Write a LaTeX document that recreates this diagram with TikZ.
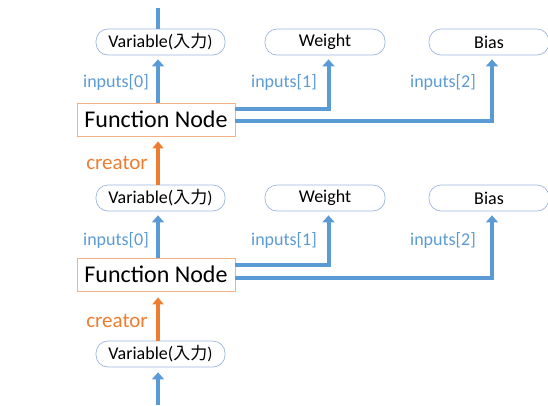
\documentclass[tikz,border=0pt]{standalone}
\usepackage{fontspec}
\setmainfont{Carlito}
\newfontfamily\jpfont{Noto Sans CJK JP}
\usetikzlibrary{arrows.meta}
\definecolor{lblue}{HTML}{5B9BD5}
\definecolor{bord}{HTML}{9DB5DF}
\definecolor{orng}{HTML}{ED7D31}
\definecolor{fnbord}{HTML}{F4B183}
\tikzset{
  varbox/.style={draw=bord, line width=0.7pt, rounded corners=12pt, minimum height=26pt, inner sep=0pt, font=\fontsize{18}{20}\selectfont},
  fnbox/.style={draw=fnbord, line width=0.8pt, minimum width=158pt, minimum height=33pt, inner sep=0pt, font=\fontsize{24}{26}\selectfont},
  bluearrow/.style={draw=lblue, line width=4pt, -{Triangle[width=12pt,length=7pt]}},
  bluebar/.style={draw=lblue, line width=4pt},
  orangearrow/.style={draw=orng, line width=4pt, -{Triangle[width=11pt,length=7pt]}},
  inlabel/.style={text=lblue, font=\fontsize{18}{20}\selectfont},
  crlabel/.style={text=orng, font=\fontsize{21}{23}\selectfont}
}
\begin{document}
\begin{tikzpicture}[x=1pt,y=-1pt]
\useasboundingbox (0,0) rectangle (548,405);
\coordinate (ax) at (158,0);
\coordinate (wx) at (328.5,0);
\coordinate (bx) at (492,0);
% row 1
\node[varbox, minimum width=129pt] (v1) at (160.5,42) {Variable(\jpfont\fontsize{17}{20}\selectfont 入力\rmfamily)};
\node[varbox, minimum width=120pt] (w1) at (325,42) {Weight};
\node[varbox, minimum width=120pt] (b1) at (489,42) {Bias};
\node[fnbox] (f1) at (156,119.5) {Function Node};
\coordinate (t0) at (158,8);
\draw[bluebar] (t0) -- (ax |- v1.north);
\draw[bluearrow] (ax |- f1.north) -- ([yshift=-4pt]ax |- v1.south);
\draw[bluearrow] (f1.east |- 0,109) -| ([yshift=-4pt]wx |- w1.south);
\draw[bluearrow] (f1.east |- 0,121) -| ([yshift=-4pt]bx |- b1.south);
\node[inlabel] (i10) at (116,82) {inputs[0]};
\node[inlabel] (i11) at (284,82) {inputs[1]};
\node[inlabel] (i12) at (443,82) {inputs[2]};
% row 2
\node[varbox, minimum width=129pt] (v2) at (160.5,198) {Variable(\jpfont\fontsize{17}{20}\selectfont 入力\rmfamily)};
\node[varbox, minimum width=120pt] (w2) at (325,198) {Weight};
\node[varbox, minimum width=120pt] (b2) at (489,198) {Bias};
\node[fnbox] (f2) at (156,274.5) {Function Node};
\draw[orangearrow] (ax |- v2.north) -- ([yshift=-5pt]ax |- f1.south);
\node[crlabel] (c1) at (117,163) {creator};
\draw[bluearrow] (ax |- f2.north) -- ([yshift=-4pt]ax |- v2.south);
\draw[bluearrow] (f2.east |- 0,265) -| ([yshift=-4pt]wx |- w2.south);
\draw[bluearrow] (f2.east |- 0,278) -| ([yshift=-4pt]bx |- b2.south);
\node[inlabel] (i20) at (116,240) {inputs[0]};
\node[inlabel] (i21) at (284,240) {inputs[1]};
\node[inlabel] (i22) at (443,240) {inputs[2]};
% row 3
\node[varbox, minimum width=129pt] (v3) at (160.5,354) {Variable(\jpfont\fontsize{17}{20}\selectfont 入力\rmfamily)};
\draw[orangearrow] (ax |- v3.north) -- ([yshift=-6pt]ax |- f2.south);
\node[crlabel] (c2) at (117,321) {creator};
\coordinate (bt) at (158,405);
\draw[bluearrow] (bt) -- ([yshift=-5pt]ax |- v3.south);
\end{tikzpicture}
\end{document}
